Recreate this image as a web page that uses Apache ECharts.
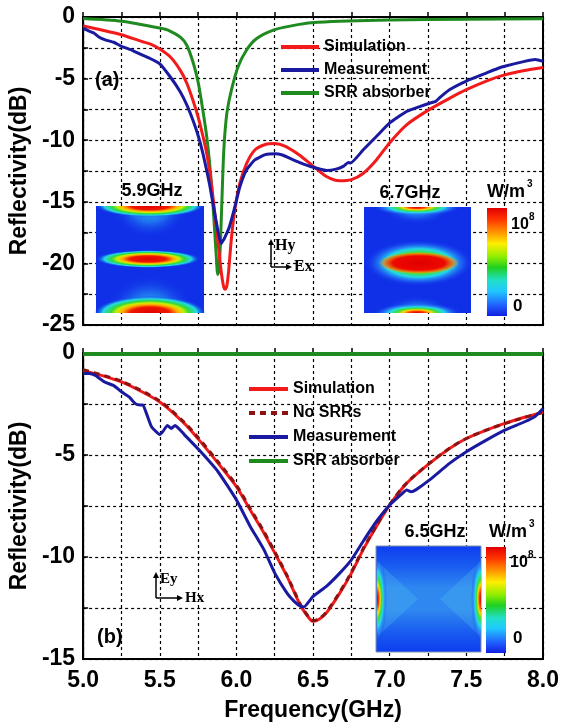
<!DOCTYPE html>
<html>
<head>
<meta charset="utf-8">
<script src="https://cdn.jsdelivr.net/npm/echarts@6/dist/echarts.min.js"></script>
<style>
  html, body { margin: 0; padding: 0; background: #fff; }
  #chart { width: 563px; height: 725px; }
</style>
</head>
<body>
<div id="chart"></div>
<script>
// panel (a)
var simAFreq = [5.0, 5.1, 5.25, 5.38, 5.44, 5.5, 5.569, 5.634, 5.677, 5.72, 5.752, 5.78, 5.805, 5.825, 5.845, 5.865, 5.885, 5.9, 5.915, 5.927, 5.938, 5.95, 5.967, 5.99, 6.022, 6.066, 6.12, 6.188, 6.25, 6.32, 6.41, 6.5, 6.587, 6.674, 6.75, 6.826, 6.913, 7.0, 7.11, 7.26, 7.39, 7.5, 7.63, 7.75, 7.88, 8.0]
var simA = [-0.72, -1.0, -1.44, -1.98, -2.2, -2.6, -3.25, -4.33, -5.4, -6.9, -8.2, -9.6, -11.0, -12.5, -14.4, -16.6, -18.9, -20.6, -21.8, -22.1, -21.8, -20.5, -18.0, -15.6, -13.5, -11.9, -10.8, -10.35, -10.27, -10.5, -11.2, -12.1, -12.95, -13.3, -13.2, -12.7, -11.6, -10.2, -8.75, -7.5, -6.6, -5.9, -5.2, -4.7, -4.35, -4.1]

var measAFreq = [5.0, 5.04, 5.07, 5.1, 5.14, 5.2, 5.25, 5.32, 5.38, 5.44, 5.5, 5.569, 5.634, 5.677, 5.72, 5.752, 5.78, 5.805, 5.825, 5.845, 5.865, 5.883, 5.9, 5.91, 5.92, 5.955, 5.99, 6.022, 6.066, 6.12, 6.188, 6.254, 6.3, 6.343, 6.41, 6.5, 6.587, 6.65, 6.7, 6.73, 6.745, 6.826, 6.913, 7.0, 7.11, 7.2, 7.26, 7.3, 7.33, 7.39, 7.5, 7.63, 7.7, 7.75, 7.88, 7.95, 8.0]
var measA = [-0.9, -1.15, -1.3, -1.6, -1.84, -2.05, -2.38, -2.7, -3.06, -3.39, -3.8, -4.87, -6.08, -7.15, -8.5, -9.7, -11.0, -12.4, -13.6, -15.0, -16.4, -17.6, -18.4, -18.2, -18.0, -17.0, -15.4, -13.8, -12.4, -11.6, -11.17, -11.09, -11.2, -11.44, -11.8, -12.2, -12.45, -12.35, -12.1, -11.8, -11.85, -10.8, -9.7, -8.6, -7.67, -7.25, -7.0, -6.85, -6.5, -5.9, -5.2, -4.55, -4.2, -4.0, -3.6, -3.45, -3.6]

var srrAFreq = [5.0, 5.25, 5.5, 5.56, 5.634, 5.677, 5.72, 5.752, 5.784, 5.806, 5.823, 5.84, 5.855, 5.868, 5.878, 5.886, 5.895, 5.905, 5.915, 5.925, 5.94, 5.968, 6.01, 6.065, 6.13, 6.25, 6.4, 6.53, 7.0, 7.5, 8.0]
var srrA = [-0.13, -0.35, -0.9, -1.1, -1.64, -2.31, -3.79, -5.4, -7.82, -9.7, -11.6, -14.0, -16.8, -19.3, -20.9, -20.6, -18.5, -15.0, -11.5, -9.4, -7.6, -5.9, -4.06, -2.7, -1.77, -1.03, -0.62, -0.43, -0.25, -0.18, -0.15]

// panel (b)
var simBFreq = [5.0, 5.25, 5.5, 5.66, 5.757, 5.88, 6.0, 6.09, 6.18, 6.25, 6.33, 6.42, 6.48, 6.5, 6.54, 6.587, 6.674, 6.75, 6.826, 6.913, 7.0, 7.11, 7.26, 7.39, 7.5, 7.63, 7.75, 7.88, 8.0]
var simB = [-0.85, -1.42, -2.4, -3.45, -4.27, -5.4, -6.55, -7.7, -8.83, -9.8, -10.95, -12.4, -13.05, -13.15, -13.05, -12.74, -11.77, -10.79, -9.65, -8.5, -7.45, -6.39, -5.41, -4.68, -4.19, -3.78, -3.45, -3.15, -2.9]

var noSrrBFreq = [5.0, 5.25, 5.5, 5.66, 5.757, 5.88, 6.0, 6.09, 6.18, 6.25, 6.33, 6.42, 6.48, 6.5, 6.54, 6.587, 6.674, 6.75, 6.826, 6.913, 7.0, 7.11, 7.26, 7.39, 7.5, 7.63, 7.75, 7.88, 8.0]
var noSrrB = [-0.82, -1.38, -2.35, -3.4, -4.2, -5.33, -6.48, -7.62, -8.76, -9.74, -10.9, -12.36, -13.02, -13.12, -13.02, -12.7, -11.72, -10.74, -9.6, -8.46, -7.42, -6.37, -5.4, -4.67, -4.19, -3.78, -3.46, -3.16, -2.92]

var measBFreq = [5.0, 5.04, 5.08, 5.14, 5.2, 5.25, 5.3, 5.34, 5.37, 5.39, 5.41, 5.445, 5.5, 5.52, 5.55, 5.575, 5.6, 5.63, 5.66, 5.757, 5.88, 6.0, 6.09, 6.18, 6.25, 6.33, 6.38, 6.42, 6.44, 6.5, 6.587, 6.674, 6.75, 6.826, 6.913, 7.0, 7.08, 7.11, 7.14, 7.17, 7.26, 7.39, 7.5, 7.63, 7.75, 7.88, 7.95, 8.0]
var measB = [-1.0, -1.0, -1.1, -1.42, -1.6, -1.9, -2.15, -2.48, -2.55, -2.55, -2.9, -3.6, -4.0, -3.85, -3.55, -3.7, -3.55, -3.75, -4.0, -4.76, -5.82, -7.2, -8.5, -9.65, -10.79, -11.77, -12.2, -12.42, -12.45, -11.93, -11.44, -10.79, -10.14, -9.24, -8.26, -7.45, -6.9, -6.71, -6.8, -6.71, -6.22, -5.41, -4.84, -4.27, -3.78, -3.37, -3.1, -2.72]

var srrBFreq = [5.0, 6.5, 8.0]
var srrB = [-0.05, -0.05, -0.05]

var xTicks = [5.0, 5.5, 6.0, 6.5, 7.0, 7.5, 8.0]
var yTicksA = [0, -5, -10, -15, -20, -25]
var yTicksB = [0, -5, -10, -15]

function zip(xs, ys) {
  return xs.map(function (x, i) { return [x, ys[i]] })
}

var FONT = 'Liberation Sans, Arial, sans-serif'
var SERIF = 'Liberation Serif, Times New Roman, serif'
var RED = '#f21a1a'
var BLUE = '#1a1aa0'
var GREEN = '#1f8a1f'
var DARKRED = '#8a1414'
var FIELD_BLUE = '#1030e8'

var chart = echarts.init(document.getElementById('chart'))

function xAxisCfg(gridIndex, showLabels) {
  return {
    type: 'value', gridIndex: gridIndex, min: 5, max: 8, interval: 0.25,
    axisLine: { lineStyle: { color: '#000', width: 2 } },
    axisTick: { inside: true, length: 5, lineStyle: { color: '#000', width: 1.5 } },
    splitLine: { show: true, lineStyle: { color: '#000', width: 1.2, type: [3, 3] } },
    axisLabel: {
      show: showLabels, margin: 10, color: '#000', fontSize: 23, fontWeight: 'bold', fontFamily: FONT,
      formatter: function (v) { return xTicks.indexOf(v) >= 0 ? v.toFixed(1) : '' }
    },
    name: showLabels ? 'Frequency(GHz)' : '',
    nameLocation: 'middle', nameGap: 40,
    nameTextStyle: { color: '#000', fontSize: 23, fontWeight: 'bold', fontFamily: FONT }
  }
}

function yAxisCfg(gridIndex, min, ticks) {
  return {
    type: 'value', gridIndex: gridIndex, min: min, max: 0, interval: 2.5,
    axisLine: { lineStyle: { color: '#000', width: 2 } },
    axisTick: { inside: true, length: 5, lineStyle: { color: '#000', width: 1.5 } },
    splitLine: { show: true, lineStyle: { color: '#000', width: 1.2, type: [3, 3] } },
    axisLabel: {
      margin: 8, color: '#000', fontSize: 23, fontWeight: 'bold', fontFamily: FONT,
      formatter: function (v) { return ticks.indexOf(v) >= 0 ? String(v) : '' }
    },
    name: 'Reflectivity(dB)', nameLocation: 'middle', nameGap: 48, nameRotate: 90,
    nameTextStyle: { color: '#000', fontSize: 23, fontWeight: 'bold', fontFamily: FONT }
  }
}

function line(name, data, color, xi, opts) {
  var s = {
    name: name, type: 'line', xAxisIndex: xi, yAxisIndex: xi, data: data,
    symbol: 'none', showSymbol: false, z: 3,
    lineStyle: { color: color, width: 3 }, itemStyle: { color: color },
    smooth: 0.25
  }
  if (opts) Object.keys(opts).forEach(function (k) { s[k] = opts[k] })
  return s
}

// field-map pieces (decoration drawn over the grid lines, under the curves)
var FIELD_STOPS = [
  { offset: 0, color: '#d00000' },
  { offset: 0.18, color: '#ff3a00' },
  { offset: 0.32, color: '#ffd800' },
  { offset: 0.45, color: '#3ee03a' },
  { offset: 0.62, color: '#22d8e8' },
  { offset: 0.8, color: 'rgba(40,130,250,0.55)' },
  { offset: 1, color: 'rgba(16,48,232,0)' }
]
var FIELD_STOPS_WIDE = [
  { offset: 0, color: '#e00000' },
  { offset: 0.35, color: '#f01800' },
  { offset: 0.5, color: '#ffb000' },
  { offset: 0.6, color: '#c8f000' },
  { offset: 0.7, color: '#30d840' },
  { offset: 0.84, color: '#22d8e8' },
  { offset: 1, color: 'rgba(16,48,232,0)' }
]
var HALO = [
  { offset: 0, color: 'rgba(40,215,235,0.95)' },
  { offset: 0.5, color: 'rgba(40,160,245,0.6)' },
  { offset: 1, color: 'rgba(16,48,232,0)' }
]
var CORE = [
  { offset: 0, color: '#e00000' },
  { offset: 0.65, color: '#ee0800' },
  { offset: 0.85, color: 'rgba(255,110,0,0.8)' },
  { offset: 1, color: 'rgba(255,200,0,0)' }
]
function blob(cx, cy, rx, ry, half, stops) {
  var start = 0, end = Math.PI * 2
  if (half === 'down') { start = 0; end = Math.PI }
  if (half === 'up') { start = Math.PI; end = Math.PI * 2 }
  if (half === 'right') { start = -Math.PI / 2; end = Math.PI / 2 }
  if (half === 'left') { start = Math.PI / 2; end = Math.PI * 1.5 }
  return {
    type: 'sector', x: cx, y: cy, scaleX: rx, scaleY: ry, z: 1,
    shape: { cx: 0, cy: 0, r0: 0, r: 1, startAngle: start, endAngle: end },
    style: { fill: { type: 'radial', x: 0, y: 0, r: 1, global: true, colorStops: stops || FIELD_STOPS } },
    silent: true
  }
}
function colorBar(x, y, w, h) {
  return {
    type: 'rect', z: 1, shape: { x: x, y: y, width: w, height: h },
    style: {
      fill: {
        type: 'linear', x: 0, y: 0, x2: 0, y2: 1, colorStops: [
          { offset: 0, color: '#e00000' }, { offset: 0.1, color: '#ff3000' },
          { offset: 0.22, color: '#ff9000' }, { offset: 0.33, color: '#ffee00' },
          { offset: 0.45, color: '#90ee00' }, { offset: 0.55, color: '#20d020' },
          { offset: 0.67, color: '#20e0c8' }, { offset: 0.77, color: '#20c8ff' },
          { offset: 0.9, color: '#2060ff' }, { offset: 1, color: '#1020e0' }
        ]
      }
    }
  }
}
function txt(x, y, s, size, opts) {
  var el = {
    type: 'text', x: x, y: y, z: 4,
    style: { text: s, fill: '#000', fontSize: size, fontWeight: 'bold', fontFamily: FONT, align: 'left', verticalAlign: 'middle' }
  }
  if (opts) Object.keys(opts).forEach(function (k) { el.style[k] = opts[k] })
  return el
}
function arrows(x0, y0, up, right, labUp, labRight, size) {
  return [
    { type: 'line', z: 4, shape: { x1: x0, y1: y0, x2: x0, y2: y0 - up + 5 }, style: { stroke: '#000', lineWidth: 1.5 } },
    { type: 'polygon', z: 4, shape: { points: [[x0 - 3, y0 - up + 6], [x0 + 3, y0 - up + 6], [x0, y0 - up]] }, style: { fill: '#000' } },
    { type: 'line', z: 4, shape: { x1: x0, y1: y0, x2: x0 + right - 5, y2: y0 }, style: { stroke: '#000', lineWidth: 1.5 } },
    { type: 'polygon', z: 4, shape: { points: [[x0 + right - 6, y0 - 3], [x0 + right - 6, y0 + 3], [x0 + right, y0]] }, style: { fill: '#000' } },
    txt(x0 + 4, y0 - up + 7, labUp, size, { fontFamily: SERIF }),
    txt(x0 + right + 2, y0, labRight, size, { fontFamily: SERIF })
  ]
}

var graphics = [
  // (a) 5.9 GHz map
  { type: 'rect', z: 1, shape: { x: 96, y: 206, width: 108, height: 107 }, style: { fill: FIELD_BLUE } },
  blob(150, 206, 38, 32, 'down', HALO),
  blob(150, 206, 54, 11, 'down', FIELD_STOPS_WIDE),
  blob(148, 259, 52, 9, null, FIELD_STOPS_WIDE),
  blob(150, 313, 44, 38, 'up', HALO),
  blob(150, 313, 56, 17, 'up', FIELD_STOPS_WIDE),
  // (a) 6.7 GHz map
  { type: 'rect', z: 1, shape: { x: 364, y: 207, width: 107, height: 106 }, style: { fill: FIELD_BLUE } },
  blob(417, 207, 34, 17, 'down', HALO),
  blob(417, 207, 44, 9, 'down', FIELD_STOPS),
  blob(419, 263, 54, 23, null, FIELD_STOPS),
  blob(419, 263, 40, 11, null, CORE),
  blob(417, 313, 34, 17, 'up', HALO),
  blob(417, 313, 44, 10, 'up', FIELD_STOPS),
  colorBar(487, 208, 20, 108),
  // (b) 6.5 GHz map
  {
    type: 'rect', z: 1, shape: { x: 376, y: 546, width: 105, height: 106 },
    style: {
      stroke: '#8090b0', lineWidth: 1,
      fill: {
        type: 'linear', x: 0, y: 0, x2: 0, y2: 1, colorStops: [
          { offset: 0, color: '#0c3cf0' }, { offset: 0.2, color: '#1a5ef0' },
          { offset: 0.4, color: '#2f88f0' }, { offset: 0.6, color: '#2f88f0' },
          { offset: 0.8, color: '#1a5ef0' }, { offset: 1, color: '#0c3cf0' }
        ]
      }
    }
  },
  { type: 'polygon', z: 1, shape: { points: [[378, 562], [378, 636], [418, 599]] }, style: { fill: 'rgba(80,190,240,0.3)' } },
  { type: 'polygon', z: 1, shape: { points: [[480, 562], [480, 636], [440, 599]] }, style: { fill: 'rgba(80,190,240,0.3)' } },
  blob(377, 599, 10, 44, 'right', FIELD_STOPS),
  blob(481, 599, 10, 44, 'left', FIELD_STOPS),
  colorBar(486, 547, 20, 106),
  // labels
  txt(95, 80, '(a)', 20),
  txt(97, 637, '(b)', 20),
  txt(152, 191, '5.9GHz', 18, { align: 'center' }),
  txt(410, 193, '6.7GHz', 18, { align: 'center' }),
  txt(435, 532, '6.5GHz', 18, { align: 'center' }),
  txt(487, 192, 'W/m', 18),
  txt(527, 184, '3', 10),
  txt(511, 225, '10', 16),
  txt(529, 217, '8', 10),
  txt(513, 306, '0', 17),
  txt(489, 532, 'W/m', 18),
  txt(529, 524, '3', 10),
  txt(510, 563, '10', 16),
  txt(528, 555, '8', 10),
  txt(513, 638, '0', 17)
].concat(arrows(271, 267, 28, 21, 'Hy', 'Ex', 16))
 .concat(arrows(156, 598, 26, 27, 'Ey', 'Hx', 15))

var legendText = { color: '#000', fontSize: 16, fontWeight: 'bold', fontFamily: FONT }

var option = {
  animation: false,
  backgroundColor: '#fff',
  grid: [
    { left: 82, top: 17, width: 461, height: 308, show: true, borderColor: '#000', borderWidth: 2, backgroundColor: 'transparent' },
    { left: 82, top: 353, width: 461, height: 306, show: true, borderColor: '#000', borderWidth: 2, backgroundColor: 'transparent' }
  ],
  xAxis: [xAxisCfg(0, false), xAxisCfg(1, true)],
  yAxis: [yAxisCfg(0, -25, yTicksA), yAxisCfg(1, -15, yTicksB)],
  legend: [
    {
      orient: 'vertical', left: 279, top: 39, padding: 0, itemWidth: 38, itemHeight: 14, itemGap: 7,
      selectedMode: false, textStyle: legendText, itemStyle: { opacity: 0 }, lineStyle: { width: 4 },
      data: ['Simulation', 'Measurement', 'SRR absorber']
    },
    {
      orient: 'vertical', left: 247, top: 381, padding: 0, itemWidth: 39, itemHeight: 14, itemGap: 8,
      selectedMode: false, textStyle: legendText, itemStyle: { opacity: 0 }, lineStyle: { width: 4 },
      data: ['Simulation', 'No SRRs', 'Measurement', 'SRR absorber']
    }
  ],
  graphic: graphics,
  series: [
    line('SRR absorber', zip(srrAFreq, srrA), GREEN, 0),
    line('Simulation', zip(simAFreq, simA), RED, 0),
    line('Measurement', zip(measAFreq, measA), BLUE, 0, { smooth: 0.15 }),
    line('SRR absorber', zip(srrBFreq, srrB), GREEN, 1, { smooth: false, lineStyle: { color: GREEN, width: 4 } }),
    line('Simulation', zip(simBFreq, simB), RED, 1),
    line('No SRRs', zip(noSrrBFreq, noSrrB), DARKRED, 1, { lineStyle: { color: DARKRED, width: 3, type: [6, 5] } }),
    line('Measurement', zip(measBFreq, measB), BLUE, 1, { smooth: 0.15 })
  ]
}

chart.setOption(option)
</script>
</body>
</html>
